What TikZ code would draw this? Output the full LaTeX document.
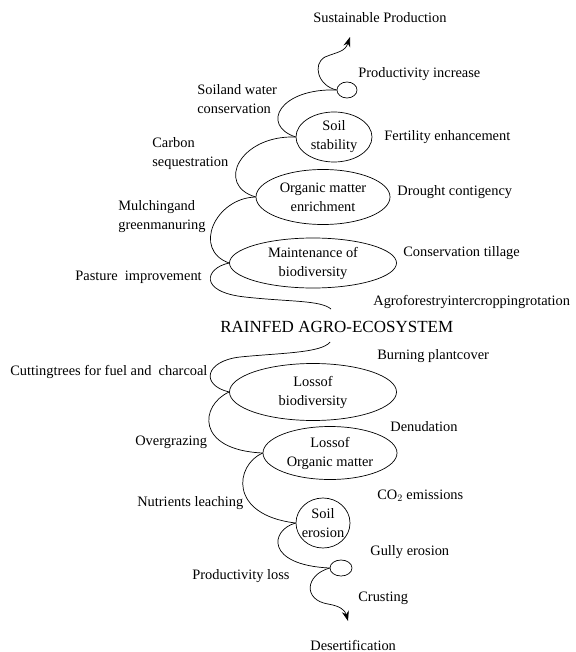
\documentclass[tikz,border=0pt]{standalone}
\usepackage{fontspec}
\setmainfont{Liberation Serif}
\usetikzlibrary{shapes.geometric, arrows.meta}

\begin{document}
\begin{tikzpicture}[x=1pt, y=-1pt, >={Stealth[length=10pt, width=7pt]}, line width=0.7pt, every node/.style={font=\fontsize{14.4}{19}\selectfont, inner sep=0pt}, state/.style={draw, ellipse, align=center}, lbl/.style={anchor=west, align=left}]
			
				\useasboundingbox (0,0) rectangle (575,652);
				
				\node [state, minimum width=20pt, minimum height=16pt] (PI) at (347,90) {};
				\node [state, minimum width=76pt, minimum height=50pt] (SS) at (334,137) {Soil\\stability};
				\node [state, minimum width=134pt, minimum height=55pt] (OM) at (323,197) {Organic matter\\enrichment};
				\node [state, minimum width=167pt, minimum height=50pt] (MB) at (313,263) {Maintenance of\\biodiversity};
				\node [state, minimum width=167pt, minimum height=57pt] (LB) at (313,392) {Lossof\\biodiversity};
				\node [state, minimum width=134pt, minimum height=53pt] (LOM) at (330,453) {Lossof\\Organic matter};
				\node [state, minimum width=54pt, minimum height=50pt, inner xsep=-4pt] (SE) at (323,523) {Soil\\erosion};
				\node [state, minimum width=22pt, minimum height=16pt] (PL) at (341,568) {};
				
				\node [lbl] (SP) at (313,18) {Sustainable Production};
				\node [lbl] (PIL) at (358,74) {Productivity increase};
				\node [lbl] (SWC) at (197,99) {Soiland water\\conservation};
				\node [lbl] (FE) at (384,137) {Fertility enhancement};
				\node [lbl] (CS) at (152,154) {Carbon\\sequestration};
				\node [lbl] (DC) at (397,192) {Drought contigency};
				\node [lbl] (MG) at (118,217) {Mulchingand\\greenmanuring};
				\node [lbl] (CT) at (403,253) {Conservation tillage};
				\node [lbl] (PAS) at (75,277) {Pasture\ \ improvement};
				\node [lbl] (AIR) at (373,302) {Agroforestryintercroppingrotation};
				\node [lbl, font=\fontsize{17}{20}\selectfont] (RAE) at (220,327) {RAINFED AGRO-ECOSYSTEM};
				\node [lbl] (BPC) at (377,356) {Burning plantcover};
				\node [lbl] (CTF) at (10,372) {Cuttingtrees for fuel and\ \ charcoal};
				\node [lbl] (DEN) at (390,427) {Denudation};
				\node [lbl] (OG) at (135,442) {Overgrazing};
				\node [lbl] (CO) at (377,496) {CO$_2$ emissions};
				\node [lbl] (NL) at (137,503) {Nutrients leaching};
				\node [lbl] (GE) at (370,552) {Gully erosion};
				\node [lbl] (PLL) at (192,576) {Productivity loss};
				\node [lbl] (CR) at (358,598) {Crusting};
				\node [lbl] (DES) at (310,645) {Desertification};
				
				\coordinate (T) at (350,37);
				\coordinate (R1) at (331,309);
				\coordinate (R2) at (330,342);
				\coordinate (D) at (348,621);
				
				\draw [->] (PI.west) .. controls (318,86) and (312,64) .. (325,57) .. controls (337,52) and (345,52) .. (T);
				\draw (PI.west) .. controls (280,88) and (260,125) .. (SS.west);
				\draw (SS.west) .. controls (240,135) and (215,185) .. (OM.west);
				\draw (OM.west) .. controls (215,198) and (192,250) .. (MB.west);
				\draw (MB.west) .. controls (205,268) and (198,292) .. (245,297) .. controls (290,302) and (320,300) .. (R1);
				
				\draw (R2) .. controls (322,353) and (280,353) .. (240,357) .. controls (205,361) and (200,385) .. (LB.west);
				\draw (LB.west) .. controls (200,405) and (195,450) .. (LOM.west);
				\draw (LOM.west) .. controls (235,465) and (228,515) .. (SE.west);
				\draw (SE.west) .. controls (270,530) and (265,565) .. (PL.west);
				\draw [->] (PL.west) .. controls (305,575) and (303,600) .. (328,604) .. controls (340,606) and (345,610) .. (D);
				
			\end{tikzpicture}
\end{document}
